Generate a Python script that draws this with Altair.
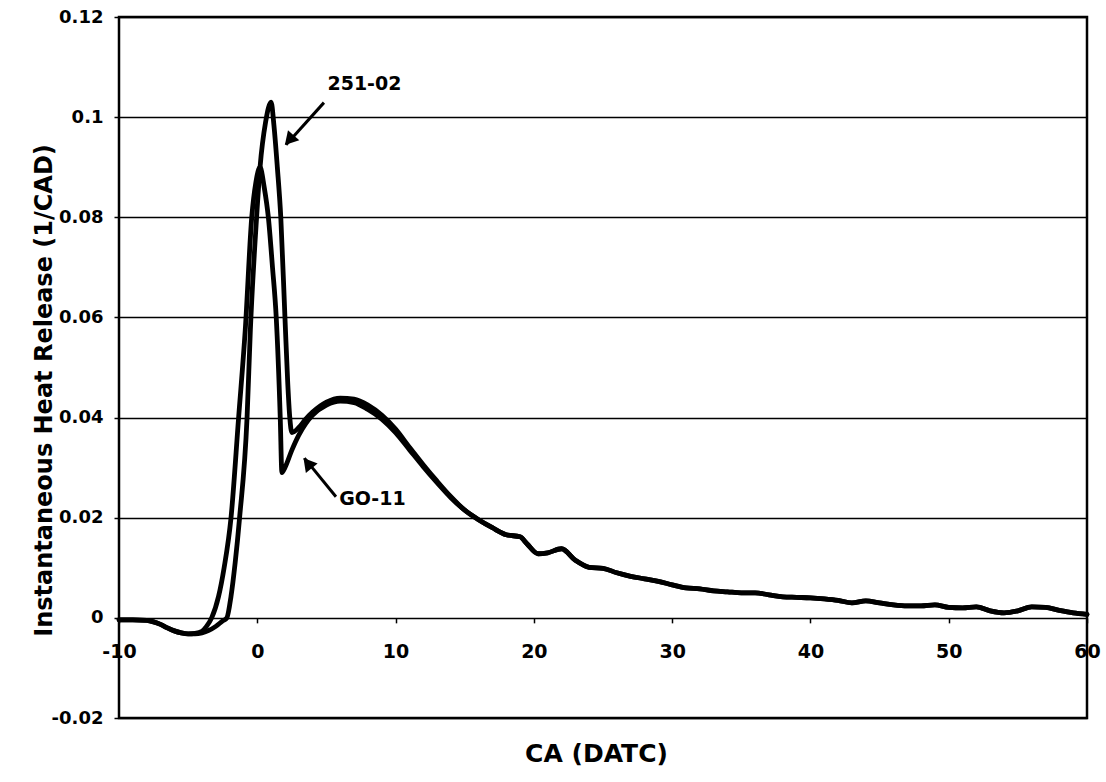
import altair as alt
import pandas as pd

# ---- data ----
go11_x = [-10, -9, -8, -7.5, -7, -6.5, -6, -5.5, -5, -4.5, -4, -3.7, -3.3, -2.8, -2.4, -1.9,
          -1.35, -0.87, -0.4, -0.1, 0.2, 0.5, 0.8, 1.1, 1.37, 1.66, 1.78, 2.0, 2.5, 3.0, 3.5,
          4, 5, 6, 7, 8, 9, 10, 11, 12, 13, 14, 15, 16, 17, 18, 19, 19.5, 20.3, 21, 22, 23,
          24, 25, 26, 27, 28, 29, 30, 31, 32, 33, 34, 35, 36, 37, 38, 39, 40, 41, 42, 43, 44,
          45, 46, 47, 48, 49, 50, 51, 52, 53, 54, 55, 56, 57, 58, 59, 60]
go11_y = [-0.0004, -0.0004, -0.0005, -0.0008, -0.0013, -0.002, -0.0026, -0.003, -0.0032, -0.0031,
          -0.0027, -0.0018, 0.0, 0.0043, 0.010, 0.020,
          0.040, 0.0575, 0.080, 0.087, 0.090, 0.086, 0.080, 0.070, 0.060, 0.040, 0.029, 0.030,
          0.0335, 0.0365, 0.0388,
          0.0405, 0.0425, 0.0433, 0.0430, 0.0416, 0.0397, 0.0370, 0.0336, 0.0302, 0.0270, 0.0240,
          0.0215, 0.0196, 0.0180, 0.0166, 0.0162, 0.0148, 0.0128, 0.0130, 0.0138, 0.0115,
          0.0101, 0.0099, 0.0090, 0.0083, 0.0078, 0.0073, 0.0066, 0.0060, 0.0058, 0.0054, 0.0052,
          0.0050, 0.0050, 0.0046, 0.0042, 0.0041, 0.0040, 0.0038, 0.0035, 0.0030, 0.0034,
          0.0030, 0.0026, 0.0024, 0.0024, 0.0026, 0.0021, 0.0020, 0.0022, 0.0014, 0.0010, 0.0014,
          0.0022, 0.0021, 0.0015, 0.0010, 0.0007]

s251_x = [-10, -9, -8, -7.5, -7, -6.5, -6, -5.5, -5, -4.5, -4, -3.5, -3, -2.5, -2.2, -1.9, -1.6,
          -1.28, -0.74, -0.5, -0.05, 0.2, 0.6, 1.0, 1.2, 1.45, 1.7, 2.0, 2.2, 2.35, 2.5, 3.0, 3.5,
          4, 5, 6, 7, 8, 9, 10, 11, 12, 13, 14, 15, 16, 17, 18, 19, 19.5, 20.3, 21, 22, 23,
          24, 25, 26, 27, 28, 29, 30, 31, 32, 33, 34, 35, 36, 37, 38, 39, 40, 41, 42, 43, 44,
          45, 46, 47, 48, 49, 50, 51, 52, 53, 54, 55, 56, 57, 58, 59, 60]
s251_y = [-0.0004, -0.0004, -0.0005, -0.0008, -0.0013, -0.002, -0.0026, -0.003, -0.0032, -0.0032,
          -0.003, -0.0025, -0.0017, -0.0006, 0.0, 0.0043, 0.011,
          0.020, 0.040, 0.0575, 0.080, 0.090, 0.099, 0.103, 0.0985, 0.090, 0.080, 0.060, 0.047,
          0.040, 0.037, 0.038, 0.0397,
          0.0411, 0.0431, 0.0439, 0.0437, 0.0425, 0.0405, 0.0377, 0.0341, 0.0306, 0.0273, 0.0242,
          0.0215, 0.0196, 0.0180, 0.0166, 0.0162, 0.0148, 0.0128, 0.0130, 0.0138, 0.0115,
          0.0101, 0.0099, 0.0090, 0.0083, 0.0078, 0.0073, 0.0066, 0.0060, 0.0058, 0.0054, 0.0052,
          0.0050, 0.0050, 0.0046, 0.0042, 0.0041, 0.0040, 0.0038, 0.0035, 0.0030, 0.0034,
          0.0030, 0.0026, 0.0024, 0.0024, 0.0026, 0.0021, 0.0020, 0.0022, 0.0014, 0.0010, 0.0014,
          0.0022, 0.0021, 0.0015, 0.0010, 0.0007]

x_ticks = [-10, 0, 10, 20, 30, 40, 50, 60]
y_ticks = [-0.02, 0, 0.02, 0.04, 0.06, 0.08, 0.1, 0.12]

labels = ["251-02", "GO-11"]
label_x = [7.75, 8.33]
label_y = [0.1067, 0.0237]
arrow_tail_x = [4.82, 5.69]
arrow_tail_y = [0.1029, 0.0242]
arrow_tip_x = [2.08, 3.41]
arrow_tip_y = [0.0945, 0.0319]
head_x = [2.31, 3.64]
head_y = [0.0954, 0.0309]
head_angle = [222, 321]

FONT = "DejaVu Sans"

df = pd.concat([
    pd.DataFrame({"x": go11_x, "y": go11_y, "series": "GO-11"}),
    pd.DataFrame({"x": s251_x, "y": s251_y, "series": "251-02"}),
])
ann = pd.DataFrame({"label": labels, "lx": label_x, "ly": label_y,
                    "tx": arrow_tail_x, "ty": arrow_tail_y,
                    "px": arrow_tip_x, "py": arrow_tip_y,
                    "hx": head_x, "hy": head_y, "ang": head_angle})

xscale = alt.Scale(domain=[-10, 60], nice=False, zero=False)
yscale = alt.Scale(domain=[-0.02, 0.12], nice=False, zero=False)

W, H = 968, 701

x_axis = alt.Axis(
    values=x_ticks, offset=-(H * 0.02 / 0.14), domain=False, grid=False,
    ticks=True, tickSize=5, tickColor="black", tickWidth=1.5,
    labelFont=FONT, labelFontWeight="bold", labelFontSize=19, labelColor="black",
    labelPadding=20, labelFlush=False, labelOverlap=False, labelBound=False,
    labelExpr="'' + datum.value",
    title="CA (DATC)", titleFont=FONT, titleFontWeight="bold", titleFontSize=25,
    titleColor="black", titleBaseline="alphabetic", titleY=144, titleX=477,
)
y_axis = alt.Axis(
    values=y_ticks, domain=False, grid=True, gridColor="black", gridWidth=1.5, gridOpacity=1,
    ticks=True, tickSize=5, tickColor="black", tickWidth=1.5,
    labelFont=FONT, labelFontWeight="bold", labelFontSize=18, labelColor="black",
    labelPadding=11, labelOverlap=False, labelBound=False, labelFlush=False,
    labelExpr="'' + round(datum.value*100)/100",
    title="Instantaneous Heat Release (1/CAD)", titleFont=FONT, titleFontWeight="bold",
    titleFontSize=24, titleColor="black", titleAngle=-90, titleBaseline="alphabetic",
    titleAlign="center", titleX=-68, titleY=373,
)

lines = alt.Chart(df).mark_line(color="black", strokeWidth=4.8, strokeJoin="round",
                                strokeCap="round", interpolate="monotone").encode(
    x=alt.X("x:Q", scale=xscale, axis=x_axis),
    y=alt.Y("y:Q", scale=yscale, axis=y_axis),
    detail="series:N",
    order="x:Q",
)

base = alt.Chart(ann)
arrows = base.mark_rule(color="black", strokeWidth=3).encode(
    x=alt.X("tx:Q", scale=xscale), y=alt.Y("ty:Q", scale=yscale),
    x2="px:Q", y2="py:Q",
)
heads = base.mark_point(shape="triangle-up", filled=True, color="black", opacity=1,
                        size=230).encode(
    x=alt.X("hx:Q", scale=xscale), y=alt.Y("hy:Q", scale=yscale),
    angle=alt.Angle("ang:Q", scale=None),
)
texts = base.mark_text(font=FONT, fontWeight="bold", fontSize=19, color="black",
                       align="center", baseline="middle").encode(
    x=alt.X("lx:Q", scale=xscale), y=alt.Y("ly:Q", scale=yscale), text="label:N",
)

chart = alt.layer(lines, arrows, heads, texts).properties(
    width=W, height=H,
    autosize=alt.AutoSizeParams(type="none"),
    padding={"left": 119, "top": 17, "right": 1106 - 119 - W, "bottom": 782 - 17 - H},
    background="white",
).configure_view(stroke="black", strokeWidth=2.5)

chart.save("out.html", embed_options={"renderer": "svg", "actions": False})
